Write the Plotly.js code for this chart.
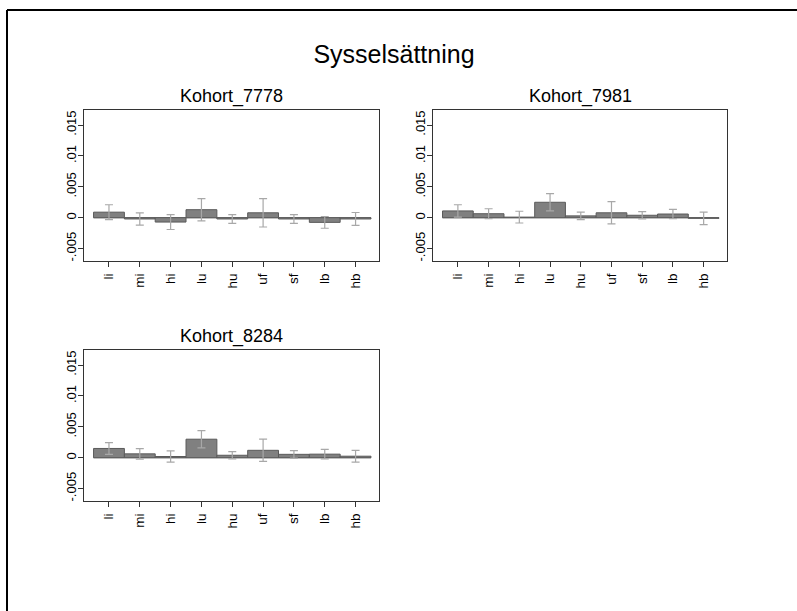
<!DOCTYPE html>
<html>
<head>
<meta charset="utf-8">
<script src="https://cdn.plot.ly/plotly-3.0.1.min.js"></script>
<style>html,body{margin:0;padding:0;background:#fff;}#chart{width:797px;height:611px;}</style>
</head>
<body>
<div id="chart"></div>
<script>
const categories = ['li','mi','hi','lu','hu','uf','sf','lb','hb'];
const panelTitles = ['Kohort_7778','Kohort_7981','Kohort_8284'];

const coef7778 = [0.0009, -0.0002, -0.0007, 0.0013, -0.0002, 0.0008, -0.0002, -0.00075, -0.0002];
const ci7778   = [0.0012, 0.0010, 0.0012, 0.0018, 0.0007, 0.0023, 0.0007, 0.00095, 0.00105];

const coef7981 = [0.0011, 0.00065, 0.0001, 0.0025, 0.0003, 0.0008, 0.0004, 0.0006, -0.0001];
const ci7981   = [0.0010, 0.0008, 0.00095, 0.0014, 0.0006, 0.0018, 0.0006, 0.00075, 0.0010];

const coef8284 = [0.0015, 0.00063, 0.0002, 0.0030, 0.0004, 0.0012, 0.00055, 0.00058, 0.00025];
const ci8284   = [0.00095, 0.00085, 0.00092, 0.0014, 0.0006, 0.0018, 0.0006, 0.00078, 0.00095];

const yTickVals = [-0.005, 0, 0.005, 0.01, 0.015];
const yTickText = ['-.005', '0', '.005', '.01', '.015'];

const W = 797, H = 611;
const FONT = 'Liberation Sans, Arial, sans-serif';
const series = [coef7778, coef7981, coef8284];
const cis = [ci7778, ci7981, ci8284];
// pixel boxes of panels: [left, right, top, bottom]
const boxes = [[84, 379, 110, 261], [433, 727, 110, 261], [84, 379, 350, 501]];

const traces = [];
const layout = {
  width: W, height: H,
  margin: {l: 0, r: 0, t: 0, b: 0},
  paper_bgcolor: '#ffffff', plot_bgcolor: '#ffffff',
  showlegend: false,
  bargap: 0,
  font: {family: FONT, color: '#000'},
  title: {text: 'Sysselsättning', font: {family: FONT, size: 25, color: '#000'},
          x: 394 / W, xanchor: 'center', y: 1 - 54 / H, yanchor: 'middle', xref: 'paper', yref: 'paper'},
  annotations: [],
  shapes: []
};

for (let i = 0; i < 3; i++) {
  const sfx = i === 0 ? '' : String(i + 1);
  const [l, r, t, b] = boxes[i];
  traces.push({
    type: 'bar', x: categories, y: series[i],
    xaxis: 'x' + sfx, yaxis: 'y' + sfx,
    marker: {color: '#808080', line: {color: '#5a5a5a', width: 1}},
    error_y: {type: 'data', array: cis[i], visible: true, color: '#a8a8a8', thickness: 1.2, width: 4},
    hoverinfo: 'none'
  });
  layout['xaxis' + sfx] = {
    domain: [l / W, r / W], anchor: 'y' + sfx,
    type: 'category', range: [-0.81, 8.76],
    showgrid: false, zeroline: false,
    showline: true, mirror: true, linecolor: '#333', linewidth: 1,
    ticks: 'outside', ticklen: 5, tickcolor: '#333',
    tickangle: -90, tickfont: {family: FONT, size: 13.5, color: '#000'},
    ticklabelstandoff: 1,
    fixedrange: true
  };
  layout['yaxis' + sfx] = {
    domain: [1 - b / H, 1 - t / H], anchor: 'x' + sfx,
    range: [-0.0070, 0.01743],
    showgrid: false, zeroline: false,
    showline: true, mirror: true, linecolor: '#333', linewidth: 1,
    ticks: 'outside', ticklen: 5, tickcolor: '#333',
    tickmode: 'array', tickvals: yTickVals, ticktext: yTickText,
    tickangle: -90, tickfont: {family: FONT, size: 13, color: '#000'},
    ticklabelstandoff: -3,
    fixedrange: true
  };
  // zero baseline under the bars, spanning the categories
  layout.shapes.push({
    type: 'line', xref: 'x' + sfx, yref: 'y' + sfx,
    x0: -0.5, x1: categories.length - 0.5, y0: 0, y1: 0,
    line: {color: '#5a5a5a', width: 1}, layer: 'below'
  });
  layout.annotations.push({
    text: panelTitles[i], xref: 'paper', yref: 'paper',
    x: (l + r) / 2 / W, y: 1 - (t - 14) / H, xanchor: 'center', yanchor: 'middle',
    showarrow: false, font: {family: FONT, size: 18, color: '#000'}
  });
}

// outer frame (top and left edges visible)
layout.shapes.push({type: 'line', xref: 'paper', yref: 'paper', x0: 7 / W, x1: 1.01, y0: 1 - 10 / H, y1: 1 - 10 / H, line: {color: '#000', width: 2}});
layout.shapes.push({type: 'line', xref: 'paper', yref: 'paper', x0: 7 / W, x1: 7 / W, y0: 1 - 10 / H, y1: -0.01, line: {color: '#000', width: 2}});

Plotly.newPlot('chart', traces, layout, {displayModeBar: false, staticPlot: true});
</script>
</body>
</html>
